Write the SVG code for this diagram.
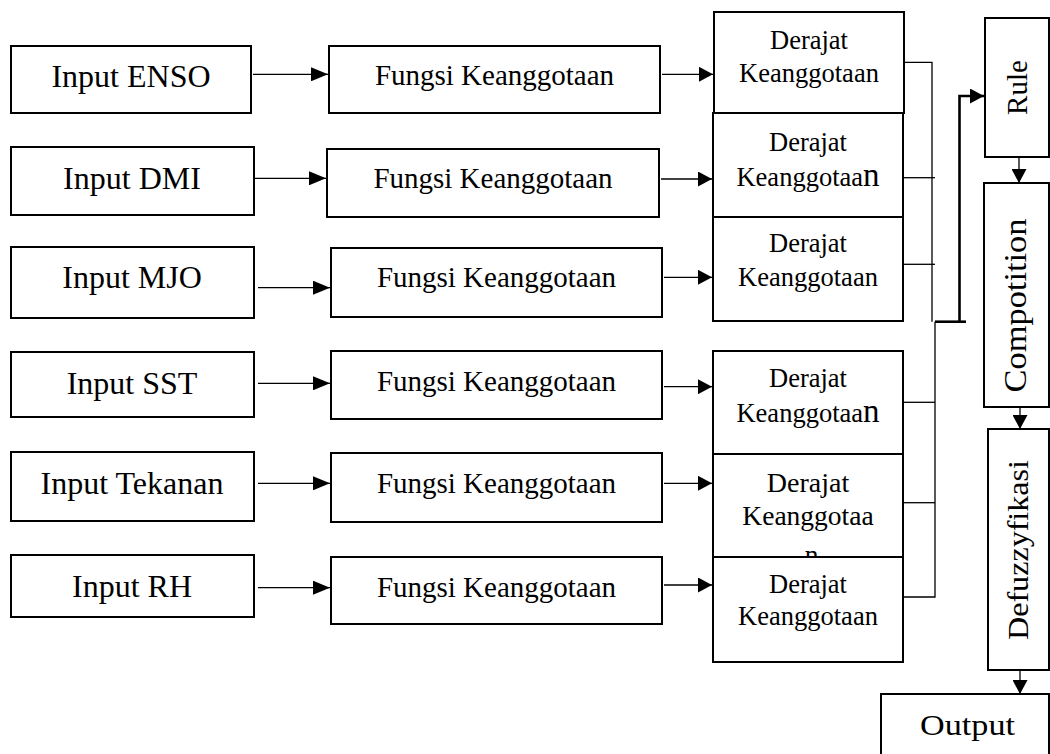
<svg xmlns="http://www.w3.org/2000/svg" width="1050" height="754" viewBox="0 0 1050 754">
<style>
.box{fill:#fff;stroke:#000;stroke-width:2}
.t{font-family:"Liberation Serif","Times New Roman",serif;fill:#000;text-anchor:middle}
.in{font-size:32px}
.fk{font-size:29px}
.dk{font-size:26.5px}
.ln{fill:none;stroke:#000;stroke-width:1.3}
.thick{fill:none;stroke:#000;stroke-width:2.6}
</style>
<defs>
<marker id="ah" markerUnits="userSpaceOnUse" markerWidth="17" markerHeight="14" refX="17" refY="7" orient="auto">
<path d="M0,0 L17,7 L0,14 z" fill="#000"/>
</marker>
<marker id="ahs" markerUnits="userSpaceOnUse" markerWidth="14" markerHeight="15" refX="14" refY="7.5" orient="auto">
<path d="M0,0 L14,7.5 L0,15 z" fill="#000"/>
</marker>
</defs>
<rect width="1050" height="754" fill="#fff"/>

<g id="input-enso"><rect class="box" x="11" y="46" width="240" height="67"/><text class="t in" x="131" y="87">Input ENSO</text></g>
<g id="input-dmi"><rect class="box" x="11" y="147" width="243" height="68"/><text class="t in" x="132" y="189">Input DMI</text></g>
<g id="input-mjo"><rect class="box" x="11" y="247" width="243" height="71"/><text class="t in" x="132" y="288">Input MJO</text></g>
<g id="input-sst"><rect class="box" x="11" y="352" width="243" height="65"/><text class="t in" x="132" y="394">Input SST</text></g>
<g id="input-tekanan"><rect class="box" x="11" y="452" width="243" height="69"/><text class="t in" x="132" y="494">Input Tekanan</text></g>
<g id="input-rh"><rect class="box" x="11" y="555" width="243" height="62"/><text class="t in" x="132" y="597">Input RH</text></g>

<g id="fungsi-1"><rect class="box" x="329" y="46" width="331" height="67"/><text class="t fk" x="494.5" y="85">Fungsi Keanggotaan</text></g>
<g id="fungsi-2"><rect class="box" x="327" y="149" width="332" height="68"/><text class="t fk" x="493" y="188">Fungsi Keanggotaan</text></g>
<g id="fungsi-3"><rect class="box" x="331" y="248" width="331" height="69"/><text class="t fk" x="496.5" y="287">Fungsi Keanggotaan</text></g>
<g id="fungsi-4"><rect class="box" x="331" y="351" width="331" height="68"/><text class="t fk" x="496.5" y="391">Fungsi Keanggotaan</text></g>
<g id="fungsi-5"><rect class="box" x="331" y="453" width="331" height="69"/><text class="t fk" x="496.5" y="493">Fungsi Keanggotaan</text></g>
<g id="fungsi-6"><rect class="box" x="331" y="557" width="331" height="67"/><text class="t fk" x="496.5" y="597">Fungsi Keanggotaan</text></g>

<g id="derajat-1"><rect class="box" x="714" y="12" width="190" height="101"/><text class="t dk" x="809" y="48.5">Derajat</text><text class="t dk" x="809" y="81.5">Keanggotaan</text></g>
<g id="derajat-2"><rect class="box" x="713" y="113" width="190" height="104"/><text class="t dk" x="808" y="150.5">Derajat</text><text class="t dk" x="808" y="186">Keanggotaa<tspan font-size="33">n</tspan></text></g>
<g id="derajat-3"><rect class="box" x="713" y="217" width="190" height="104"/><text class="t dk" x="808" y="251.5">Derajat</text><text class="t dk" x="808" y="285.5">Keanggotaan</text></g>
<g id="derajat-4"><rect class="box" x="713" y="351" width="190" height="103"/><text class="t dk" x="808" y="386.5">Derajat</text><text class="t dk" x="808" y="422">Keanggotaa<tspan font-size="33">n</tspan></text></g>
<g id="derajat-5"><rect class="box" x="713" y="454" width="190" height="103"/><text class="t" style="font-size:28px" x="808" y="491.5">Derajat</text><text class="t" style="font-size:27.5px" x="808" y="525">Keanggotaa</text><text class="t" style="font-size:27.5px" x="811.5" y="564">n</text></g>
<g id="derajat-6"><rect class="box" x="713" y="557" width="190" height="105"/><text class="t dk" x="808" y="593">Derajat</text><text class="t dk" x="808" y="625">Keanggotaan</text></g>

<g id="rule"><rect class="box" x="985" y="18" width="64" height="139"/><text class="t" style="font-size:29px" x="1027" y="87.5" transform="rotate(-90 1027 87.5)">Rule</text></g>
<g id="compotition"><rect class="box" x="984" y="183" width="65" height="224"/><text class="t" style="font-size:32px" x="1026" y="305.5" textLength="174" lengthAdjust="spacingAndGlyphs" transform="rotate(-90 1026 305.5)">Compotition</text></g>
<g id="defuzzyfikasi"><rect class="box" x="988" y="429" width="61" height="241"/><text class="t" style="font-size:30px" x="1028" y="550" textLength="180" lengthAdjust="spacingAndGlyphs" transform="rotate(-90 1028 550)">Defuzzyfikasi</text></g>
<g id="output"><rect class="box" x="881" y="694" width="168" height="70"/><text class="t" style="font-size:30px" x="967.5" y="735" textLength="95" lengthAdjust="spacingAndGlyphs">Output</text></g>

<g id="connectors">
<line class="ln" x1="253" y1="74.3" x2="328" y2="74.3" marker-end="url(#ah)"/>
<line class="ln" x1="255" y1="178.3" x2="326" y2="178.3" marker-end="url(#ah)"/>
<line class="ln" x1="258" y1="287.7" x2="330" y2="287.7" marker-end="url(#ah)"/>
<line class="ln" x1="258" y1="383.3" x2="330" y2="383.3" marker-end="url(#ah)"/>
<line class="ln" x1="258" y1="483.3" x2="330" y2="483.3" marker-end="url(#ah)"/>
<line class="ln" x1="258" y1="587.7" x2="330" y2="587.7" marker-end="url(#ah)"/>

<line class="ln" x1="662" y1="74.3" x2="713" y2="74.3" marker-end="url(#ahs)"/>
<line class="ln" x1="661" y1="179" x2="712" y2="179" marker-end="url(#ahs)"/>
<line class="ln" x1="664" y1="277.3" x2="712" y2="277.3" marker-end="url(#ahs)"/>
<line class="ln" x1="664" y1="386.7" x2="712" y2="386.7" marker-end="url(#ahs)"/>
<line class="ln" x1="664" y1="483.3" x2="712" y2="483.3" marker-end="url(#ahs)"/>
<line class="ln" x1="664" y1="585" x2="712" y2="585" marker-end="url(#ahs)"/>

<polyline class="ln" points="904,62.3 932,62.3 932,321.7"/>
<line class="ln" x1="903" y1="177.7" x2="935" y2="177.7"/>
<line class="ln" x1="903" y1="264.3" x2="935" y2="264.3"/>
<line class="ln" x1="903" y1="402.3" x2="935" y2="402.3"/>
<line class="ln" x1="903" y1="502.7" x2="935" y2="502.7"/>
<polyline class="ln" points="903,597 935,597 935,321.7"/>

<line class="thick" x1="935" y1="321.7" x2="966" y2="321.7"/>
<polyline class="thick" points="959.5,321.7 959.5,96 984,96" marker-end="url(#ahs)"/>

<line class="ln" x1="1019" y1="157" x2="1019" y2="183" marker-end="url(#ahs)"/>
<line class="ln" x1="1020" y1="407" x2="1020" y2="429" marker-end="url(#ahs)"/>
<line class="ln" x1="1020" y1="670" x2="1020" y2="694" marker-end="url(#ahs)"/>
</g>
</svg>
